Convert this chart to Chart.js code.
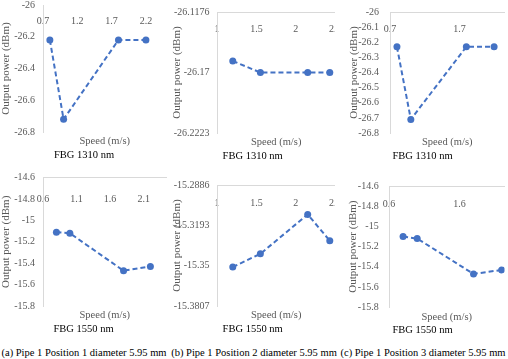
<!DOCTYPE html>
<html><head><meta charset="utf-8">
<script src="https://cdn.jsdelivr.net/npm/chart.js@4.4.0/dist/chart.umd.min.js"></script>
<style>
html,body{margin:0;padding:0;background:#fff;}
#wrap{position:relative;width:508px;height:359px;overflow:hidden;background:#fff;}
canvas{position:absolute;}
.clip{position:absolute;overflow:hidden;}
.cap{position:absolute;font-family:"Liberation Serif","Times New Roman",serif;font-size:10.5px;line-height:12px;color:#000;white-space:nowrap;text-align:center;}
</style></head><body>
<div id="wrap">
<canvas id="c1" width="170" height="164" style="left:0;top:0"></canvas>
<div class="clip" style="left:170px;top:0;width:164.5px;height:164px"><canvas id="c2" width="175" height="164" style="left:0;top:0"></canvas></div>
<canvas id="c3" width="170" height="164" style="left:338px;top:0"></canvas>
<canvas id="c4" width="170" height="168" style="left:0;top:170px"></canvas>
<div class="clip" style="left:170px;top:170px;width:164.5px;height:168px"><canvas id="c5" width="175" height="168" style="left:0;top:0"></canvas></div>
<canvas id="c6" width="170" height="168" style="left:338px;top:170px"></canvas>
<div class="cap" style="left:0;top:347px;width:168px">(a) Pipe 1 Position 1 diameter 5.95 mm</div>
<div class="cap" style="left:170px;top:347px;width:168px">(b) Pipe 1 Position 2 diameter 5.95 mm</div>
<div class="cap" style="left:338px;top:347px;width:170px">(c) Pipe 1 Position 3 diameter 5.95 mm</div>
</div>
<script>
// ---- data ----
const speedPos1 = [0.8, 1.0, 1.8, 2.2];
const speedPos2 = [1.2, 1.55, 2.15, 2.43];
const speedPos3 = [0.8, 1.0, 1.8, 2.2];

const power1310Pos1 = [-26.22, -26.72, -26.22, -26.22];
const power1310Pos2 = [-26.16, -26.17, -26.17, -26.17];
const power1310Pos3 = [-26.23, -26.71, -26.23, -26.23];

const power1550Pos1 = [-15.11, -15.12, -15.47, -15.43];
const power1550Pos2 = [-15.351, -15.341, -15.311, -15.331];
const power1550Pos3 = [-15.10, -15.12, -15.47, -15.43];

// tick labels
const xTicksPos1_1310 = [0.7, 1.2, 1.7, 2.2];
const xTicksPos2 = [1, 1.5, 2, 2.5];
const xTicksPos3_1310 = [0.7, 1.7];
const xTicksPos1_1550 = [0.6, 1.1, 1.6, 2.1];
const xTicksPos3_1550 = [0.6, 1.6];

const yTicksPos1_1310 = [-26, -26.2, -26.4, -26.6, -26.8];
const yTicksPos2_1310 = [-26.1176, -26.17, -26.2223];
const yTicksPos3_1310 = [-26, -26.1, -26.2, -26.3, -26.4, -26.5, -26.6, -26.7, -26.8];
const yTicks1550 = [-14.6, -14.8, -15, -15.2, -15.4, -15.6, -15.8];
const yTicksPos2_1550 = [-15.2886, -15.3193, -15.35, -15.3807];

const titles = ['FBG 1310 nm', 'FBG 1550 nm'];
const xTitle = 'Speed (m/s)';
const yTitle = 'Output power (dBm)';

// ---- styling ----
const BLUE = '#4472C4';
const GRAY = '#595959';
const AXIS = '#d9d9d9';
const SERIF = '"Liberation Serif","Times New Roman",serif';

function panel(id, o) {
  const ymin = Math.min(...o.yt), ymax = Math.max(...o.yt);
  new Chart(document.getElementById(id), {
    type: 'scatter',
    data: { datasets: [{
      data: o.x.map((v, i) => ({ x: v, y: o.y[i] })),
      showLine: true, borderColor: BLUE, backgroundColor: BLUE,
      borderWidth: 2, borderDash: [5, 3], pointRadius: 3.5, pointHoverRadius: 3.5,
      pointBorderWidth: 0, pointBackgroundColor: BLUE
    }]},
    options: {
      responsive: false, animation: false, devicePixelRatio: 1,
      layout: { padding: { top: o.top, bottom: o.bottom - 0.3, left: 0, right: o.right } },
      plugins: {
        legend: { display: false }, tooltip: { enabled: false },
        title: { display: true, position: 'bottom', text: o.title, color: '#000',
          font: { family: SERIF, size: 10.5, weight: 'normal' }, padding: { top: 0.7, bottom: 0 },
          align: 'center' }
      },
      scales: {
        x: {
          type: 'linear', min: o.xmin, max: o.xmax, position: { y: ymax },
          grid: { display: false, drawTicks: false },
          border: { display: o.topLine, color: AXIS, width: 1 },
          ticks: { color: GRAY, font: { family: SERIF, size: 10 }, padding: o.xpad - 0.3,
            maxRotation: 0, autoSkip: false, callback: v => String(v) },
          afterBuildTicks: s => { s.ticks = o.xt.map(v => ({ value: v })); },
          afterFit: s => { s.paddingLeft = 0; s.paddingRight = 0; }
        },
        x2: {
          type: 'linear', position: 'bottom', display: true,
          grid: { display: false, drawTicks: false }, border: { display: false },
          ticks: { display: false },
          title: { display: true, text: xTitle, color: GRAY,
            font: { family: SERIF, size: 10.5 }, padding: { top: 3.4, bottom: 0 } }
        },
        y: {
          type: 'linear', min: ymin, max: ymax, position: 'left',
          grid: { display: false, drawTicks: false },
          border: { display: true, color: AXIS, width: 1 },
          ticks: { color: GRAY, font: { family: SERIF, size: 10 }, padding: o.ypad,
            autoSkip: false, callback: v => String(v) },
          afterBuildTicks: s => { s.ticks = o.yt.map(v => ({ value: v })); },
          afterFit: s => { s.width = o.axisW; s.paddingTop = 0; s.paddingBottom = 0; },
          title: { display: true, text: yTitle, color: GRAY,
            font: { family: SERIF, size: 11 }, padding: { top: o.ytpad, bottom: 0 } }
        }
      }
    }
  });
}

panel('c1', { x: speedPos1, y: power1310Pos1, xt: xTicksPos1_1310, yt: yTicksPos1_1310, title: titles[0],
  xmin: 0.7, xmax: 2.5, axisW: 43, right: 2, top: 5, bottom: 3, ytpad: 0, ypad: 8, xpad: 11, topLine: false });
panel('c2', { x: speedPos2, y: power1310Pos2, xt: xTicksPos2, yt: yTicksPos2_1310, title: titles[0],
  xmin: 1, xmax: 2.5, axisW: 47, right: 9.7, top: 12, bottom: 2, ytpad: 0.7, ypad: 7.5, xpad: 11.3, topLine: true });
panel('c3', { x: speedPos3, y: power1310Pos3, xt: xTicksPos3_1310, yt: yTicksPos3_1310, title: titles[0],
  xmin: 0.7, xmax: 2.35, axisW: 52, right: 1, top: 12, bottom: 2, ytpad: 9.4, ypad: 11, xpad: 11.6, topLine: true });
panel('c4', { x: speedPos1, y: power1550Pos1, xt: xTicksPos1_1550, yt: yTicks1550, title: titles[1],
  xmin: 0.6, xmax: 2.44, axisW: 43, right: 3, top: 7.6, bottom: 3, ytpad: 0, ypad: 8, xpad: 16, topLine: true });
panel('c5', { x: speedPos2, y: power1550Pos2, xt: xTicksPos2, yt: yTicksPos2_1550, title: titles[1],
  xmin: 1, xmax: 2.5, axisW: 47, right: 9.7, top: 15, bottom: 3, ytpad: 0.7, ypad: 7.5, xpad: 12.6, topLine: true });
panel('c6', { x: speedPos3, y: power1550Pos3, xt: xTicksPos3_1550, yt: yTicks1550, title: titles[1],
  xmin: 0.6, xmax: 2.24, axisW: 51, right: 1, top: 16, bottom: 1.7, ytpad: 8.4, ypad: 10.3, xpad: 12.6, topLine: true });
</script>
</body></html>
